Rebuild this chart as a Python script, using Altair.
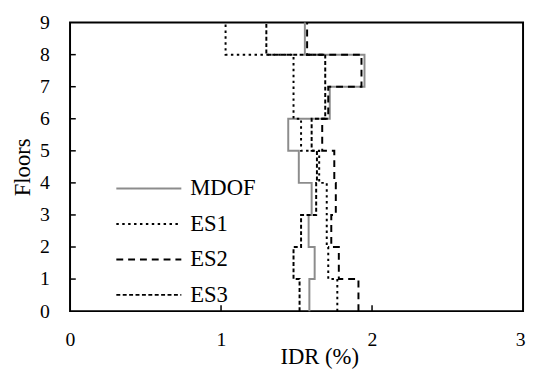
import altair as alt
import pandas as pd

FONT = "Liberation Serif"

# Storey numbers (storey i spans floor i-1 .. i)
floors = [1, 2, 3, 4, 5, 6, 7, 8, 9]
# Inter-storey drift ratio (%) per storey, bottom to top
mdof = [1.585, 1.62, 1.58, 1.60, 1.515, 1.445, 1.72, 1.95, 1.555]
es1 = [1.77, 1.71, 1.70, 1.70, 1.65, 1.53, 1.48, 1.48, 1.03]
es2 = [1.91, 1.78, 1.73, 1.76, 1.75, 1.67, 1.71, 1.93, 1.57]
es3 = [1.52, 1.48, 1.53, 1.63, 1.635, 1.60, 1.69, 1.69, 1.30]

series_names = ["MDOF", "ES1", "ES2", "ES3"]
series_vals = [mdof, es1, es2, es3]

x_tick_vals = [0, 1, 2, 3]
y_tick_vals = [0, 1, 2, 3, 4, 5, 6, 7, 8, 9]
x_inner_ticks = [1, 2]
y_inner_ticks = [1, 2, 3, 4, 5, 6, 7, 8]

rows = []
for name, vals in zip(series_names, series_vals):
    k = 0
    for f, v in zip(floors, vals):
        rows.append({"series": name, "idr": v, "floor": f - 1, "order": k})
        k += 1
        rows.append({"series": name, "idr": v, "floor": f, "order": k})
        k += 1
df = pd.DataFrame(rows)

xs = alt.Scale(domain=[0, 3], nice=False, zero=False)
ys = alt.Scale(domain=[0, 9], nice=False, zero=False)

x_axis = alt.Axis(
    values=x_tick_vals,
    title="IDR (%)",
    labelPadding=19,
    titleX=253,
    titleY=53,
    titleBaseline="alphabetic",
    titleFontSize=23,
    labelFlush=False,
    labelAlign={"condition": {"test": "datum.value == 3", "value": "right"}, "value": "center"},
    labelOffset={"condition": {"test": "datum.value == 3", "value": 2}, "value": 0},
)
y_axis = alt.Axis(
    values=y_tick_vals,
    title="Floors",
    labelPadding=21,
    titlePadding=5,
    titleFontSize=23,
    labelFlush=False,
)

legend = alt.Legend(
    title=None,
    orient="none",
    legendX=46,
    legendY=157,
    symbolType="stroke",
    symbolSize=4356,
    symbolStrokeWidth=2,
    clipHeight=23,
    rowPadding=12,
    labelOffset=8,
    labelFont=FONT,
    labelFontSize=23,
    labelColor="black",
)

lines = alt.Chart(df).mark_line(strokeWidth=2).encode(
    x=alt.X("idr:Q", scale=xs, axis=x_axis, title="IDR (%)"),
    y=alt.Y("floor:Q", scale=ys, axis=y_axis, title="Floors"),
    color=alt.Color(
        "series:N",
        scale=alt.Scale(domain=series_names, range=["#8c8c8c", "black", "black", "black"]),
        legend=legend,
    ),
    strokeDash=alt.StrokeDash(
        "series:N",
        scale=alt.Scale(domain=series_names, range=[[1, 0], [2.5, 3.5], [7, 5], [4, 2.5]]),
        legend=legend,
    ),
    order="order:Q",
    detail="series:N",
)

xt_df = pd.DataFrame({"t": x_inner_ticks, "a": [0.0] * len(x_inner_ticks), "b": [0.18] * len(x_inner_ticks)})
yt_df = pd.DataFrame({"t": y_inner_ticks, "a": [0.0] * len(y_inner_ticks), "b": [0.038] * len(y_inner_ticks)})

xticks = alt.Chart(xt_df).mark_rule(color="black", strokeWidth=1.5).encode(
    x=alt.X("t:Q", scale=xs, axis=x_axis, title="IDR (%)"),
    y=alt.Y("a:Q", scale=ys, axis=y_axis, title="Floors"),
    y2="b:Q",
)
yticks = alt.Chart(yt_df).mark_rule(color="black", strokeWidth=1.5).encode(
    y=alt.Y("t:Q", scale=ys, axis=y_axis, title="Floors"),
    x=alt.X("a:Q", scale=xs, axis=x_axis, title="IDR (%)"),
    x2="b:Q",
)

chart = (
    alt.layer(lines, xticks, yticks)
    .properties(
        width=460,
        height=293,
        autosize=alt.AutoSizeParams(type="none"),
        padding={"left": 63, "top": 12, "right": 3, "bottom": 59},
    )
    .configure_view(stroke="black", strokeWidth=2)
    .configure_axis(
        grid=False,
        domain=False,
        ticks=False,
        tickSize=0,
        labelFont=FONT,
        titleFont=FONT,
        labelFontSize=20,
        labelColor="black",
        titleColor="black",
        titleFontWeight="normal",
    )
)

chart.save("out.html", embed_options={"renderer": "svg", "actions": False})
